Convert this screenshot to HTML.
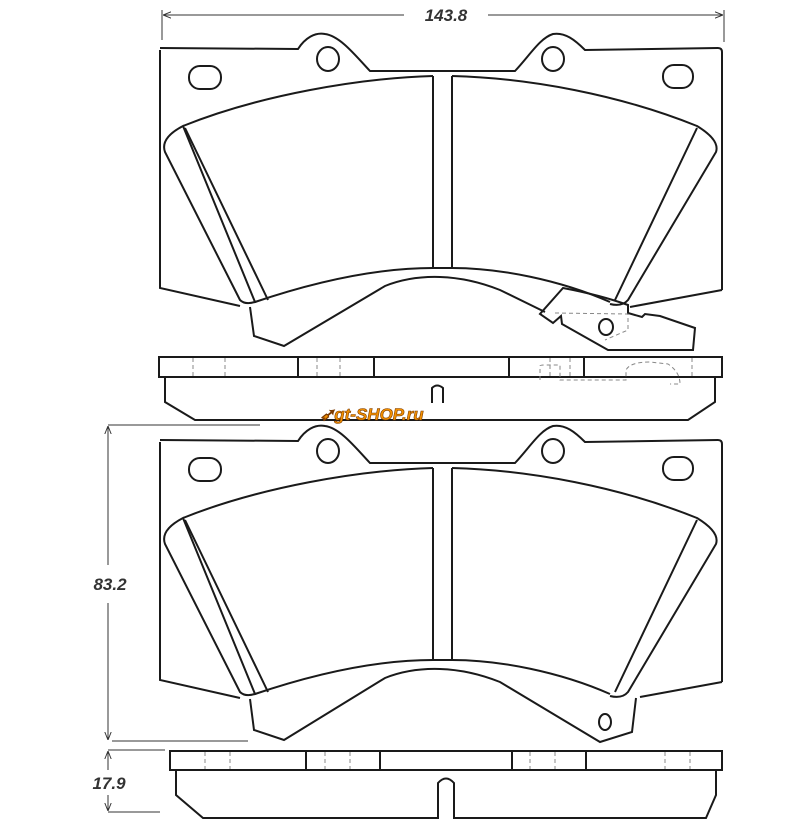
<!DOCTYPE html>
<html><head><meta charset="utf-8"><style>
html,body{margin:0;padding:0;background:#fff;}
svg{display:block}
text{font-family:"Liberation Sans",sans-serif;font-weight:bold;font-style:italic;fill:#333}
</style></head><body>
<svg width="800" height="830" viewBox="0 0 800 830" xmlns="http://www.w3.org/2000/svg">
<defs>
<marker id="ar" viewBox="0 0 10 10" refX="10" refY="5" markerWidth="8" markerHeight="8" orient="auto-start-reverse"><path d="M0,1 L10,5 L0,9" fill="none" stroke="#333" stroke-width="1.2"/></marker>
<g id="top">
<path d="M160,48 L298,49 C305,38 315,32 325,34 C340,36 355,55 370,71 L515,71 C530,55 540,38 553,34 C565,32 575,40 585,50 L718,48 Q722,48 722,52 L722,290" fill="none"/>
<path d="M160,50 L160,288 L240,306" fill="none"/>
<rect x="189" y="66" width="32" height="23" rx="11"/>
<rect x="663" y="65" width="30" height="23" rx="11"/>
<ellipse cx="328" cy="59" rx="11" ry="12"/>
<ellipse cx="553" cy="59" rx="11" ry="12"/>
<path d="M183,126 C260,95 360,78 433,76 M452,76 C530,78 620,95 697,126 Q720,140 716,152 L628,300 Q622,307 610,304 M255,302 Q245,305 240,300 L165,152 Q160,138 183,126 Z" fill="none"/>
<path d="M255,302 C320,280 380,268 433,268 L452,268 C500,268 560,280 610,302" fill="none"/>
<path d="M433,76 L433,268 M452,76 L452,268" fill="none"/>
<path d="M185,128 L268,300 M697,128 L615,300" fill="none"/>
</g>
</defs>
<g stroke="#1a1a1a" stroke-width="2" fill="none">
<use href="#top"/>
<path d="M722,290 L630,307" />
<path d="M250,307 L254,336 L284,346 L385,286 Q410,276 440,277 Q470,278 500,290 L545,312" />
<path d="M563,288 L540,314 L553,323 L561,316 L562,324 L608,350 L693,350 L695,328 L660,316 L645,314 L642,317 L628,313 L628,305 Q600,295 563,288 Z"/>
<ellipse cx="606" cy="327" rx="7" ry="8"/>
<rect x="159" y="357" width="563" height="20"/>
<path d="M298,357 V377 M374,357 V377 M509,357 V377 M584,357 V377"/>
<path d="M165,377 V402 L195,420 L688,420 L715,402 V377"/>
<path d="M432,403 V388 Q437,383 443,388 V403"/>
</g>
<g stroke="#888" stroke-width="1" stroke-dasharray="4,3" fill="none">
<path d="M193,358 V376 M225,358 V376 M317,358 V376 M340,358 V376 M550,358 V376 M570,358 V376 M692,358 V376"/>
<path d="M540,380 V366 Q540,365 545,365 L560,365 V380 L626,380 V370 Q630,362 650,362 L668,364 Q680,372 680,384 L670,384"/>
<path d="M555,313 L628,314 L628,330 L605,340"/>
</g>
<text x="320" y="420" style="fill:#f39000;font-size:17px;font-family:'Liberation Sans',sans-serif;font-weight:bold;font-style:italic;stroke:#7a3a00;stroke-width:0.6">➹gt-SHOP.ru</text>
<g stroke="#1a1a1a" stroke-width="2" fill="none">
<g transform="translate(0,392)"><use href="#top"/></g>
<path d="M722,682 L640,697 M250,699 L254,730 L284,740 L385,678 Q410,668 440,669 Q470,670 500,682 L600,742 L632,732 L636,698"/>
<ellipse cx="605" cy="722" rx="6" ry="8"/>
<rect x="170" y="751" width="552" height="19"/>
<path d="M306,751 V770 M380,751 V770 M512,751 V770 M586,751 V770"/>
<path d="M176,770 V795 L203,818 L438,818 V783 Q446,774 454,783 V818 L706,818 L716,795 V770"/>
</g>
<g stroke="#888" stroke-width="1" stroke-dasharray="4,3" fill="none">
<path d="M205,752 V769 M230,752 V769 M325,752 V769 M350,752 V769 M530,752 V769 M555,752 V769 M665,752 V769 M690,752 V769"/>
</g>
<g stroke="#333" stroke-width="1" fill="none">
<path d="M162,10 V40 M724,10 V42"/>
<path d="M404,15 H163" marker-end="url(#ar)"/>
<path d="M488,15 H723" marker-end="url(#ar)"/>
<path d="M108,425 H260 M112,741 H248"/>
<path d="M108,565 V426" marker-end="url(#ar)"/>
<path d="M108,603 V740" marker-end="url(#ar)"/>
<path d="M108,750 H165 M108,812 H160"/>
<path d="M108,770 V751" marker-end="url(#ar)"/>
<path d="M108,795 V811" marker-end="url(#ar)"/>
</g>
<text x="446" y="21" font-size="17" text-anchor="middle">143.8</text>
<text x="110" y="590" font-size="17" text-anchor="middle">83.2</text>
<text x="109" y="789" font-size="17" text-anchor="middle">17.9</text>
</svg>
</body></html>
